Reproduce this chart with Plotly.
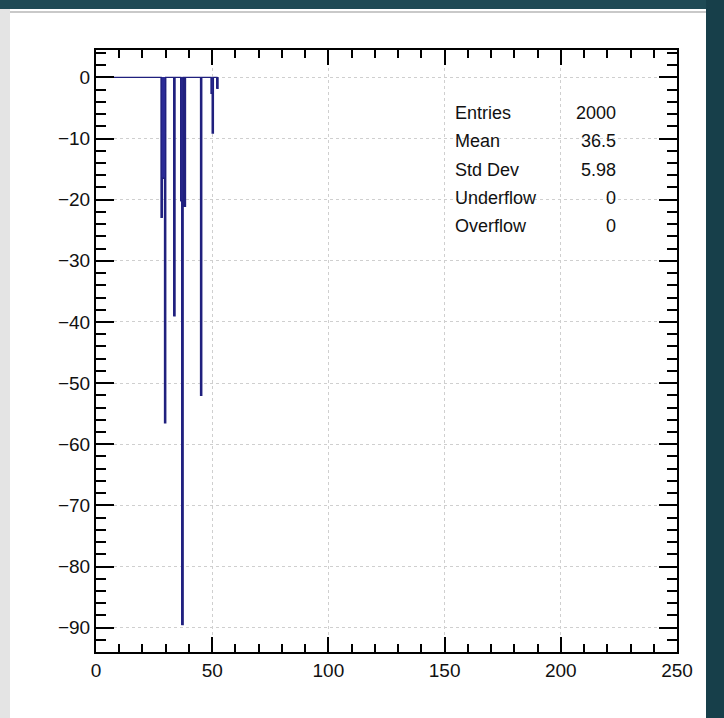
import plotly.graph_objects as go

# ---- data ----
bin_width = 0.5
hist_start = 0.0
hist_end = 52.5
bin_lo = [28.0, 28.5, 29.0, 29.5, 33.5, 36.5, 37.0, 38.0, 45.0, 49.5, 50.0, 52.0]
bin_content = [-22.9, -16.5, -16.5, -56.5, -39.0, -20.2, -89.5, -21.1, -52.0, -2.6, -9.1, -1.8]

stats_labels = ["Entries", "Mean", "Std Dev", "Underflow", "Overflow"]
stats_values = ["2000", "36.5", "5.98", "0", "0"]

x_range = [0, 250]
x_ticks = [0, 50, 100, 150, 200, 250]
y_ticks = [0, -10, -20, -30, -40, -50, -60, -70, -80, -90]

# ---- build full histogram arrays ----
nb = int(round((hist_end - hist_start) / bin_width))
edges = [hist_start + i * bin_width for i in range(nb + 1)]
contents = [0.0] * nb
for lo, c in zip(bin_lo, bin_content):
    contents[int(round((lo - hist_start) / bin_width))] = c

ymin_d, ymax_d = min(contents), max(contents)
marg = 0.05 * (ymax_d - ymin_d)
y_range = [ymin_d - marg, ymax_d + marg]

LINE = "#20207e"
FILL = "#2b2b96"

fig = go.Figure()
fig.add_trace(go.Bar(
    x=[lo + bin_width / 2 for lo in bin_lo], y=bin_content, width=bin_width,
    marker=dict(color=FILL, line=dict(width=0)), showlegend=False, hoverinfo="skip"))
fig.add_trace(go.Scatter(
    x=edges, y=contents + [0.0], mode="lines", line=dict(shape="hv", color=LINE, width=1.4),
    showlegend=False, hoverinfo="skip"))

# ---- layout geometry ----
W, H = 724, 718
ml, mr, mt, mb = 96, 47, 50, 66
pw, ph = W - ml - mr, H - mt - mb

def px(xp):
    return (xp - ml) / pw

def py(yp):
    return (H - mb - yp) / ph

FONT = "Liberation Sans, Arial, Helvetica, sans-serif"

axis_common = dict(
    showline=True, linecolor="black", linewidth=2, mirror="allticks",
    ticks="inside", tickcolor="black", tickwidth=2,
    showgrid=True, gridcolor="#cfcfcf", gridwidth=1, griddash="dot",
    zeroline=False, tickfont=dict(family=FONT, size=19, color="#111"),
)

fig.update_layout(
    width=W, height=H, autosize=False,
    margin=dict(l=ml, r=mr, t=mt, b=mb),
    paper_bgcolor="white", plot_bgcolor="white",
    barmode="overlay", bargap=0,
    xaxis=dict(range=x_range, tickvals=x_ticks, ticklen=15,
               minor=dict(dtick=10, ticklen=8, ticks="inside", tickcolor="black", tickwidth=1.5, showgrid=False),
               **axis_common),
    yaxis=dict(range=y_range, tickvals=y_ticks, ticklen=18,
               minor=dict(dtick=2, ticklen=10, ticks="inside", tickcolor="black", tickwidth=1.5, showgrid=False),
               **axis_common),
)

# stats box text (no border, as in the reference)
row_y = [113, 141, 169.5, 198, 226]
for lab, val, yp in zip(stats_labels, stats_values, row_y):
    fig.add_annotation(x=px(453), y=py(yp), xref="paper", yref="paper", text=lab,
                       showarrow=False, xanchor="left", yanchor="middle",
                       font=dict(family=FONT, size=18, color="#111"))
    fig.add_annotation(x=px(618), y=py(yp), xref="paper", yref="paper", text=val,
                       showarrow=False, xanchor="right", yanchor="middle",
                       font=dict(family=FONT, size=18, color="#111"))

# window chrome around the canvas
chrome = [
    dict(x0=0, x1=W, y0=0, y1=9, color="#1f4a55"),
    dict(x0=706, x1=W, y0=0, y1=H, color="#173f4a"),
    dict(x0=0, x1=10, y0=9, y1=H, color="#e4e4e4"),
    dict(x0=10, x1=706, y0=11, y1=13, color="#c9c9c9"),
]
for c in chrome:
    fig.add_shape(type="rect", xref="paper", yref="paper",
                  x0=px(c["x0"]), x1=px(c["x1"]), y0=py(c["y1"]), y1=py(c["y0"]),
                  fillcolor=c["color"], line=dict(width=0), layer="above")

fig.write_html("out.html", config={"displayModeBar": False},
               post_script="document.body.style.margin='0';")
